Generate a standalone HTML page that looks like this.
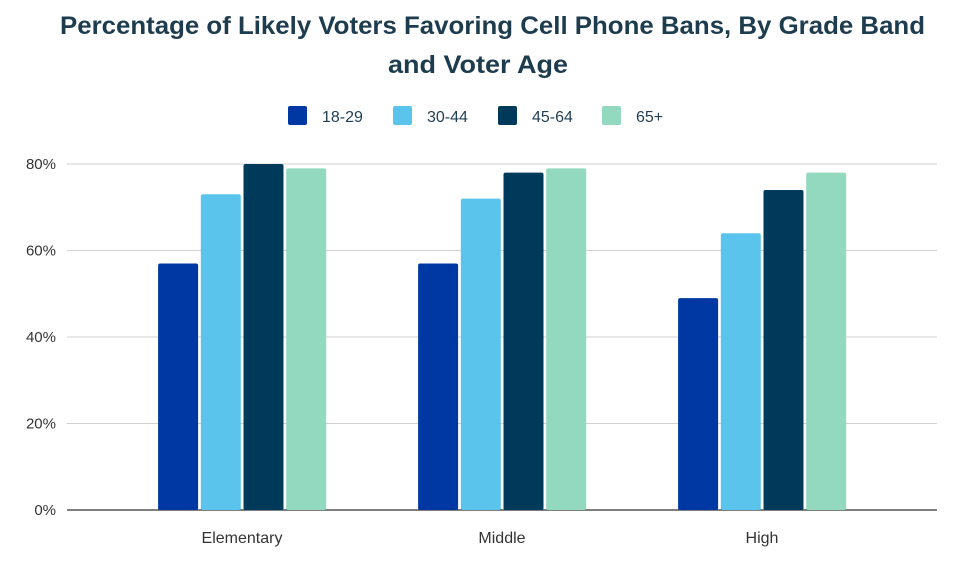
<!DOCTYPE html>
<html><head><meta charset="utf-8"><style>
body{margin:0;background:#fff;width:962px;height:568px;overflow:hidden}
svg text{font-family:"Liberation Sans",sans-serif}
</style></head><body>
<svg width="962" height="568">
<text x="60" y="34" textLength="865" lengthAdjust="spacingAndGlyphs" font-size="25" font-weight="bold" fill="#1d3c4e">Percentage of Likely Voters Favoring Cell Phone Bans, By Grade Band</text>
<text x="388" y="73" textLength="180" lengthAdjust="spacingAndGlyphs" font-size="25" font-weight="bold" fill="#1d3c4e">and Voter Age</text>
<g id="legend"></g>
<g id="grid"></g>
<g id="bars"></g>
<g id="xlabels"></g>
</svg>
<script>
const categories=["Elementary","Middle","High"];
const seriesNames=["18-29","30-44","45-64","65+"];
const s1829=[57,57,49];
const s3044=[73,72,64];
const s4564=[80,78,74];
const s65=[79,79,78];
const yTicks=[0,20,40,60,80];
const yTickLabels=["0%","20%","40%","60%","80%"];
const colors=["#0038a3","#5bc4ec","#003a5a","#92d9bf"];
const series=[s1829,s3044,s4564,s65];
const NS="http://www.w3.org/2000/svg";
const y0=510,yPer=(510-164)/80;
const yScale=v=>y0-v*yPer;
const xCenter=i=>242+i*260;
function mk(tag,attrs,parent){const e=document.createElementNS(NS,tag);for(const k in attrs)e.setAttribute(k,attrs[k]);parent.appendChild(e);return e;}
const grid=document.getElementById('grid');
yTicks.forEach((t,i)=>{
  if(t>0){const l=mk('line',{x1:67,x2:937,y1:yScale(t),y2:yScale(t),stroke:'#d0d0d0','stroke-width':1},grid);
  
  }
  const tx=mk('text',{x:56,y:yScale(t)+5,'text-anchor':'end','font-size':15,fill:'#333'},grid);
  tx.textContent=yTickLabels[i];
  
  
});
const bars=document.getElementById('bars');
const bw=40,step=42.7;
categories.forEach((c,ci)=>{
  series.forEach((s,si)=>{
    const x=xCenter(ci)-2*step+si*step+1.5;
    const top=yScale(s[ci]);
    const r=mk('rect',{x:x,y:top,width:bw,height:y0-top,fill:colors[si],rx:2},bars);
    
    
  });
  const t=mk('text',{x:xCenter(ci),y:543,'text-anchor':'middle','font-size':16,fill:'#333'},document.getElementById('xlabels'));
  t.textContent=c;
  
  
});
const ax=mk('line',{x1:67,x2:937,y1:y0,y2:y0,stroke:'#333','stroke-width':1.2},grid);


const lg=document.getElementById('legend');
const lx=[288,393,498,602];
seriesNames.forEach((n,i)=>{
  const g=mk('g',{},lg);
  
  
  mk('rect',{x:lx[i],y:106,width:19,height:19,rx:2,fill:colors[i]},g);
  const t=mk('text',{x:lx[i]+34,y:122,'font-size':16,fill:'#1f3f55'},g);
  t.textContent=n;
});
</script>
</body></html>
